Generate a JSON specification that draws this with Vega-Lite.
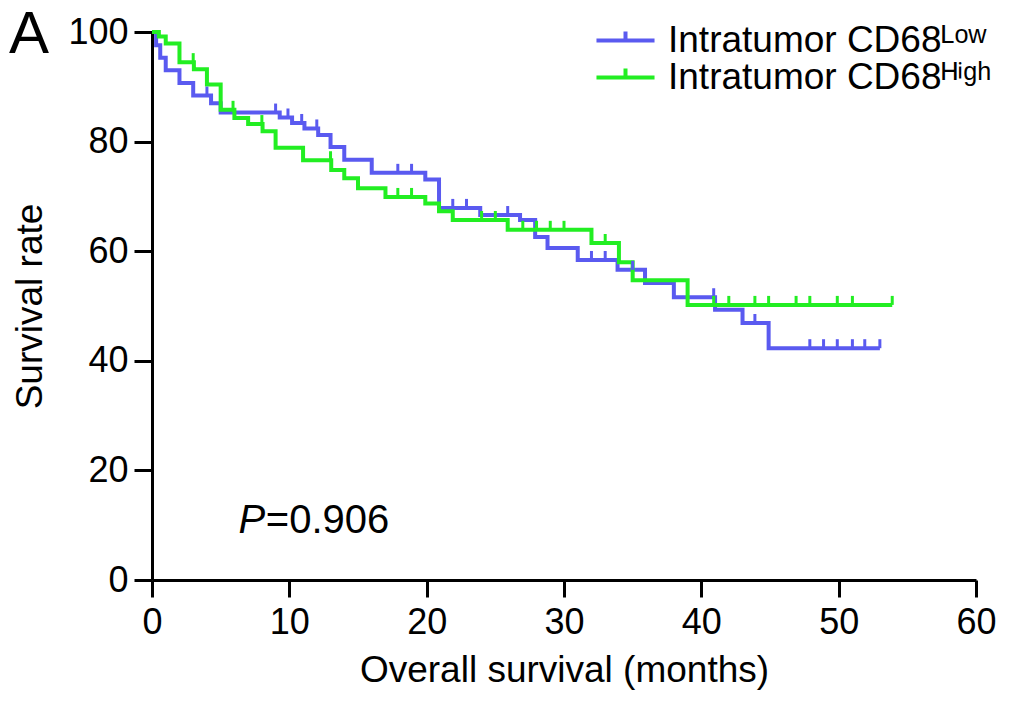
{
  "$schema": "https://vega.github.io/schema/vega-lite/v6.json",
  "width": 824,
  "height": 548,
  "autosize": {"type": "none"},
  "padding": {"left": 152, "top": 32, "right": 60, "bottom": 122},
  "config": {
    "font": "Liberation Sans",
    "view": {"stroke": null},
    "axis": {
      "grid": false,
      "domainColor": "black",
      "domainWidth": 3,
      "tickColor": "black",
      "tickWidth": 3,
      "labelColor": "black",
      "titleColor": "black",
      "labelFontSize": 36,
      "titleFontSize": 37,
      "titleFontWeight": "normal",
      "labelFlush": false
    }
  },
  "data": {
    "values": [
      {"g": "Low", "t": 0, "s": 100, "c": 0},
      {"g": "Low", "t": 0.3, "s": 97.6, "c": 0},
      {"g": "Low", "t": 0.6, "s": 95.3, "c": 0},
      {"g": "Low", "t": 1.0, "s": 93.0, "c": 0},
      {"g": "Low", "t": 2.0, "s": 90.7, "c": 0},
      {"g": "Low", "t": 3.0, "s": 88.4, "c": 0},
      {"g": "Low", "t": 4.0, "s": 88.4, "c": 1},
      {"g": "Low", "t": 4.3, "s": 87.0, "c": 0},
      {"g": "Low", "t": 5.0, "s": 85.3, "c": 0},
      {"g": "Low", "t": 9.0, "s": 85.3, "c": 1},
      {"g": "Low", "t": 9.3, "s": 84.4, "c": 0},
      {"g": "Low", "t": 9.9, "s": 84.4, "c": 1},
      {"g": "Low", "t": 10.2, "s": 83.4, "c": 0},
      {"g": "Low", "t": 10.9, "s": 83.4, "c": 1},
      {"g": "Low", "t": 11.1, "s": 82.4, "c": 0},
      {"g": "Low", "t": 12.0, "s": 82.4, "c": 1},
      {"g": "Low", "t": 12.1, "s": 81.2, "c": 0},
      {"g": "Low", "t": 13.0, "s": 79.0, "c": 0},
      {"g": "Low", "t": 14.0, "s": 76.7, "c": 0},
      {"g": "Low", "t": 16.0, "s": 74.3, "c": 0},
      {"g": "Low", "t": 17.9, "s": 74.3, "c": 1},
      {"g": "Low", "t": 18.9, "s": 74.3, "c": 1},
      {"g": "Low", "t": 19.9, "s": 73.1, "c": 0},
      {"g": "Low", "t": 20.9, "s": 67.9, "c": 0},
      {"g": "Low", "t": 21.9, "s": 67.9, "c": 1},
      {"g": "Low", "t": 22.9, "s": 67.9, "c": 1},
      {"g": "Low", "t": 23.9, "s": 66.6, "c": 0},
      {"g": "Low", "t": 25.9, "s": 66.6, "c": 1},
      {"g": "Low", "t": 26.8, "s": 65.7, "c": 0},
      {"g": "Low", "t": 27.9, "s": 62.6, "c": 0},
      {"g": "Low", "t": 28.8, "s": 60.6, "c": 0},
      {"g": "Low", "t": 31.0, "s": 58.4, "c": 0},
      {"g": "Low", "t": 32.0, "s": 58.4, "c": 1},
      {"g": "Low", "t": 33.0, "s": 58.4, "c": 1},
      {"g": "Low", "t": 33.9, "s": 56.6, "c": 0},
      {"g": "Low", "t": 35.0, "s": 56.6, "c": 1},
      {"g": "Low", "t": 35.9, "s": 54.2, "c": 0},
      {"g": "Low", "t": 38.0, "s": 51.6, "c": 0},
      {"g": "Low", "t": 40.9, "s": 51.6, "c": 1},
      {"g": "Low", "t": 41.0, "s": 49.3, "c": 0},
      {"g": "Low", "t": 43.0, "s": 46.9, "c": 0},
      {"g": "Low", "t": 43.9, "s": 46.9, "c": 1},
      {"g": "Low", "t": 44.9, "s": 42.3, "c": 0},
      {"g": "Low", "t": 47.9, "s": 42.3, "c": 1},
      {"g": "Low", "t": 48.9, "s": 42.3, "c": 1},
      {"g": "Low", "t": 49.9, "s": 42.3, "c": 1},
      {"g": "Low", "t": 51.0, "s": 42.3, "c": 1},
      {"g": "Low", "t": 51.9, "s": 42.3, "c": 1},
      {"g": "Low", "t": 53.0, "s": 42.3, "c": 1},
      {"g": "High", "t": 0, "s": 100, "c": 0},
      {"g": "High", "t": 0.5, "s": 99.2, "c": 0},
      {"g": "High", "t": 1.0, "s": 97.9, "c": 0},
      {"g": "High", "t": 2.0, "s": 94.5, "c": 0},
      {"g": "High", "t": 3.0, "s": 94.5, "c": 1},
      {"g": "High", "t": 3.05, "s": 93.2, "c": 0},
      {"g": "High", "t": 4.0, "s": 90.4, "c": 0},
      {"g": "High", "t": 5.0, "s": 85.8, "c": 0},
      {"g": "High", "t": 5.9, "s": 85.8, "c": 1},
      {"g": "High", "t": 6.0, "s": 84.3, "c": 0},
      {"g": "High", "t": 7.0, "s": 83.2, "c": 0},
      {"g": "High", "t": 8.0, "s": 83.2, "c": 1},
      {"g": "High", "t": 8.05, "s": 81.9, "c": 0},
      {"g": "High", "t": 9.0, "s": 78.9, "c": 0},
      {"g": "High", "t": 11.0, "s": 76.6, "c": 0},
      {"g": "High", "t": 13.0, "s": 76.6, "c": 1},
      {"g": "High", "t": 13.05, "s": 74.8, "c": 0},
      {"g": "High", "t": 14.0, "s": 73.3, "c": 0},
      {"g": "High", "t": 15.0, "s": 71.5, "c": 0},
      {"g": "High", "t": 17.0, "s": 69.9, "c": 0},
      {"g": "High", "t": 17.9, "s": 69.9, "c": 1},
      {"g": "High", "t": 18.9, "s": 69.9, "c": 1},
      {"g": "High", "t": 19.9, "s": 68.7, "c": 0},
      {"g": "High", "t": 20.9, "s": 67.3, "c": 0},
      {"g": "High", "t": 21.9, "s": 65.7, "c": 0},
      {"g": "High", "t": 24.0, "s": 65.7, "c": 1},
      {"g": "High", "t": 25.0, "s": 65.7, "c": 1},
      {"g": "High", "t": 25.9, "s": 63.9, "c": 0},
      {"g": "High", "t": 27.0, "s": 63.9, "c": 1},
      {"g": "High", "t": 28.0, "s": 63.9, "c": 1},
      {"g": "High", "t": 29.0, "s": 63.9, "c": 1},
      {"g": "High", "t": 30.0, "s": 63.9, "c": 1},
      {"g": "High", "t": 32.0, "s": 61.5, "c": 0},
      {"g": "High", "t": 33.0, "s": 61.5, "c": 1},
      {"g": "High", "t": 34.0, "s": 58.0, "c": 0},
      {"g": "High", "t": 35.0, "s": 54.7, "c": 0},
      {"g": "High", "t": 39.0, "s": 50.2, "c": 0},
      {"g": "High", "t": 40.9, "s": 50.2, "c": 1},
      {"g": "High", "t": 42.0, "s": 50.2, "c": 1},
      {"g": "High", "t": 43.9, "s": 50.2, "c": 1},
      {"g": "High", "t": 44.9, "s": 50.2, "c": 1},
      {"g": "High", "t": 46.9, "s": 50.2, "c": 1},
      {"g": "High", "t": 47.9, "s": 50.2, "c": 1},
      {"g": "High", "t": 49.9, "s": 50.2, "c": 1},
      {"g": "High", "t": 51.0, "s": 50.2, "c": 1},
      {"g": "High", "t": 53.9, "s": 50.2, "c": 1}
    ]
  },
  "layer": [
    {
      "encoding": {
        "x": {
          "field": "t",
          "type": "quantitative",
          "scale": {"domain": [0, 60], "nice": false},
          "axis": {
            "title": "Overall survival (months)",
            "values": [0, 10, 20, 30, 40, 50, 60],
            "tickSize": 17,
            "labelPadding": 8,
            "titlePadding": 12
          }
        },
        "y": {
          "field": "s",
          "type": "quantitative",
          "scale": {"domain": [0, 100], "nice": false},
          "axis": {
            "title": "Survival rate",
            "values": [0, 20, 40, 60, 80, 100],
            "tickSize": 18,
            "labelPadding": 6,
            "titlePadding": 18
          }
        },
        "color": {
          "field": "g",
          "type": "nominal",
          "sort": ["Low", "High"],
          "scale": {"domain": ["Low", "High"], "range": ["#5a5af0", "#22ee22"]},
          "legend": {
            "title": null,
            "orient": "none",
            "legendX": 455,
            "legendY": -10,
            "padding": 0,
            "symbolType": "M-2.4,0L2.4,0M0,0L0,-0.75",
            "symbolSize": 585,
            "symbolStrokeWidth": 4,
            "symbolFillColor": "transparent",
            "labelFontSize": 37,
            "labelColor": "black",
            "labelOffset": 24,
            "labelLimit": 0,
            "rowPadding": -18,
            "labelExpr": "datum.label == 'Low' ? 'Intratumor CD68ᴸᵒʷ' : 'Intratumor CD68ᴴⁱᵍʰ'"
          }
        }
      },
      "layer": [
        {
          "mark": {"type": "line", "interpolate": "step-after", "strokeWidth": 4}
        },
        {
          "transform": [{"filter": "datum.c == 1"}],
          "mark": {"type": "point", "shape": "M0,0L0,-1", "size": 324, "strokeWidth": 3, "filled": false, "opacity": 1}
        }
      ]
    },
    {
      "data": {"values": [{}]},
      "mark": {"type": "text", "text": "A", "fontSize": 60, "align": "center", "baseline": "alphabetic", "color": "black"},
      "encoding": {
        "x": {"datum": -8.96, "type": "quantitative"},
        "y": {"datum": 96.2, "type": "quantitative"}
      }
    },
    {
      "data": {"values": [{}]},
      "mark": {"type": "text", "text": "P", "fontSize": 40, "fontStyle": "italic", "align": "right", "baseline": "alphabetic", "color": "black"},
      "encoding": {
        "x": {"datum": 8.24, "type": "quantitative"},
        "y": {"datum": 8.6, "type": "quantitative"}
      }
    },
    {
      "data": {"values": [{}]},
      "mark": {"type": "text", "text": "=0.906", "fontSize": 40, "align": "left", "baseline": "alphabetic", "color": "black"},
      "encoding": {
        "x": {"datum": 8.29, "type": "quantitative"},
        "y": {"datum": 8.6, "type": "quantitative"}
      }
    }
  ]
}
